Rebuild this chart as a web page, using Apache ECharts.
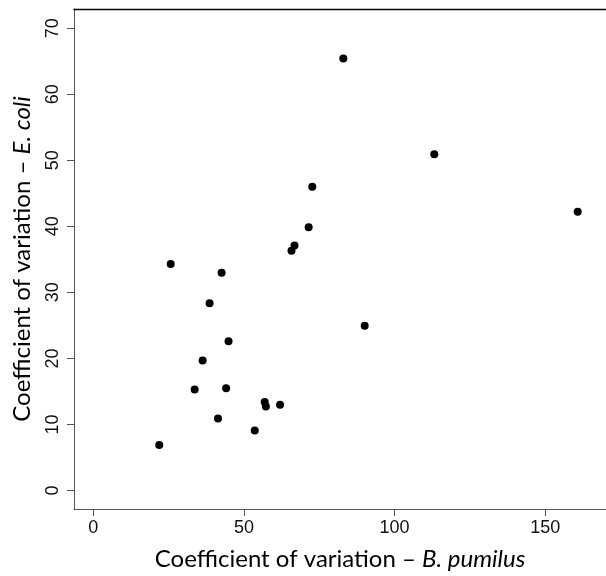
<!DOCTYPE html>
<html>
<head>
<meta charset="utf-8">
<script src="https://cdn.jsdelivr.net/npm/echarts@6/dist/echarts.min.js"></script>
<style>
  html, body { margin: 0; padding: 0; background: #fff; }
  #chart { width: 606px; height: 576px; }
</style>
</head>
<body>
<div id="chart"></div>
<script>
// coefficient of variation, B. pumilus (x) vs E. coli (y)
var bPumilus = [72.7, 71.5, 66.8, 65.8, 25.7, 42.6, 38.6, 44.9, 36.3, 33.65, 44.1, 56.9, 57.3, 62.0, 41.4, 53.6, 21.9, 83.0, 113.2, 160.8, 90.1];
var eColi = [46.0, 39.85, 37.1, 36.3, 34.3, 32.95, 28.35, 22.6, 19.7, 15.3, 15.5, 13.4, 12.7, 12.97, 10.9, 9.08, 6.9, 65.4, 50.9, 42.2, 24.96];
var xTicks = [0, 50, 100, 150];
var yTicks = [0, 10, 20, 30, 40, 50, 60, 70];

var points = bPumilus.map(function (v, i) { return [v, eColi[i]]; });

var myChart = echarts.init(document.getElementById('chart'));
var labelFont = '"Liberation Sans", Arial, sans-serif';
var titleFont = 'Lato, "Open Sans", sans-serif';

myChart.setOption({
  animation: false,
  grid: { left: 74, top: 9, right: 0, bottom: 67 },
  xAxis: [{
    type: 'value',
    min: -6.4,
    max: 170.2,
    position: 'bottom',
    name: '{n|Coefficient of variation – }{i|B. pumilus}',
    nameLocation: 'middle',
    nameGap: 38,
    nameTextStyle: {
      rich: {
        n: { fontFamily: titleFont, fontSize: 24, color: '#000' },
        i: { fontFamily: titleFont, fontSize: 24, fontStyle: 'italic', color: '#000' }
      }
    },
    axisLine: { show: true, onZero: false, lineStyle: { color: '#555', width: 1 } },
    axisTick: { show: true, length: 7, customValues: xTicks, lineStyle: { color: '#555' } },
    axisLabel: { customValues: xTicks, margin: 10, fontFamily: labelFont, fontSize: 18, color: '#111' },
    splitLine: { show: false }
  }, {
    type: 'value',
    min: -6.4,
    max: 170.2,
    position: 'top',
    axisLine: { show: true, onZero: false, lineStyle: { color: '#000', width: 1.3 } },
    axisTick: { show: false },
    axisLabel: { show: false },
    splitLine: { show: false }
  }],
  yAxis: {
    type: 'value',
    min: -2.8,
    max: 72.9,
    name: '{n|Coefficient of variation – }{i|E. coli}',
    nameLocation: 'middle',
    nameGap: 40,
    nameTextStyle: {
      rich: {
        n: { fontFamily: titleFont, fontSize: 24, color: '#000' },
        i: { fontFamily: titleFont, fontSize: 24, fontStyle: 'italic', color: '#000' }
      }
    },
    axisLine: { show: true, onZero: false, lineStyle: { color: '#555', width: 1 } },
    axisTick: { show: true, length: 7, customValues: yTicks, lineStyle: { color: '#555' } },
    axisLabel: { customValues: yTicks, rotate: 90, margin: 12, fontFamily: labelFont, fontSize: 18, color: '#111' },
    splitLine: { show: false }
  },
  series: [{
    type: 'scatter',
    data: points,
    symbol: 'circle',
    symbolSize: 8,
    itemStyle: { color: '#000', opacity: 1 }
  }]
});
</script>
</body>
</html>
